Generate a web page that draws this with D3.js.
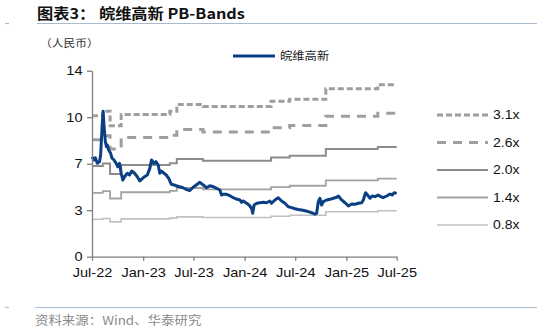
<!DOCTYPE html>
<html>
<head>
<meta charset="utf-8">
<script src="https://cdn.jsdelivr.net/npm/d3@7"></script>
<style>
  body { margin: 0; background: #fff; }
  text { font-family: "Liberation Sans", Arial, sans-serif; }
  .cjk { font-family: "Noto Sans CJK SC", sans-serif; }
</style>
</head>
<body>
<div class="chartBox"></div>
<script>
// 皖维高新 PB-Bands
var w = 537, h = 332;
var margin = { top: 70.7, right: 140.3, bottom: 75.3, left: 92 };
var iw = w - margin.left - margin.right,
    ih = h - margin.top - margin.bottom;

// share price (人民币)
var priceDates = ["2022-07-01","2022-07-08","2022-07-13","2022-07-20","2022-07-28","2022-08-01","2022-08-06","2022-08-10","2022-08-13","2022-08-18",
  "2022-08-22","2022-08-25","2022-08-30","2022-09-06","2022-09-11","2022-09-18","2022-09-26","2022-10-02","2022-10-08","2022-10-14",
  "2022-10-20","2022-10-26","2022-11-05","2022-11-13","2022-11-21","2022-12-01","2022-12-11","2022-12-20","2022-12-28","2023-01-06",
  "2023-01-16","2023-01-25","2023-01-31","2023-02-09","2023-02-16","2023-02-24","2023-03-02","2023-03-07","2023-03-17","2023-03-25",
  "2023-04-03","2023-04-12","2023-04-22","2023-04-30","2023-05-12","2023-05-24","2023-06-05","2023-06-17","2023-06-29","2023-07-11",
  "2023-07-24","2023-08-05","2023-08-17","2023-08-29","2023-09-10","2023-09-22","2023-10-04","2023-10-10","2023-10-16","2023-10-28",
  "2023-11-09","2023-11-21","2023-12-03","2023-12-15","2023-12-21","2023-12-27","2024-01-08","2024-01-17","2024-01-26","2024-01-30",
  "2024-02-04","2024-02-14","2024-02-25","2024-03-08","2024-03-20","2024-04-01","2024-04-07","2024-04-19","2024-05-01","2024-05-13",
  "2024-05-25","2024-06-06","2024-06-18","2024-06-30","2024-07-12","2024-07-24","2024-08-05","2024-08-17","2024-08-29","2024-09-10",
  "2024-09-16","2024-09-22","2024-09-28","2024-10-04","2024-10-10","2024-10-22","2024-11-03","2024-11-15","2024-11-27","2024-12-03",
  "2024-12-15","2024-12-27","2025-01-08","2025-01-20","2025-02-01","2025-02-13","2025-02-25","2025-03-03","2025-03-11","2025-03-18",
  "2025-03-27","2025-04-04","2025-04-14","2025-04-25","2025-05-05","2025-05-13","2025-05-26","2025-06-07","2025-06-15","2025-06-22",
  "2025-07-01"];
var price = [7.53,7.28,7.45,7.03,7.15,7.65,9.66,10.95,9.91,8.66,
  8.28,8.41,8.03,7.78,7.41,7.28,7.03,6.77,7.03,6.28,
  5.77,6.02,6.28,6.15,6.45,6.28,6.02,5.70,5.85,6.02,
  6.15,6.65,7.28,7.03,7.15,6.90,6.28,6.45,6.28,6.15,
  5.90,5.45,5.40,5.34,5.27,5.19,5.07,4.97,5.21,5.40,
  5.60,5.40,5.19,5.34,5.27,5.15,5.02,4.64,4.70,4.70,
  4.59,4.44,4.34,4.27,4.09,4.19,4.02,3.89,3.64,3.27,
  3.89,4.02,4.06,4.09,4.06,4.19,4.02,4.27,4.44,4.19,
  4.02,3.76,3.69,3.61,3.55,3.51,3.46,3.39,3.31,3.21,
  3.27,4.14,4.40,3.89,4.14,4.27,4.32,4.40,4.47,4.57,
  4.27,4.06,3.82,3.97,3.94,4.02,4.06,4.27,4.82,4.64,
  4.40,4.57,4.52,4.64,4.52,4.44,4.57,4.72,4.64,4.82,
  4.77];

// band levels, stepping when book value changes
var bandDates = ["2022-07-01","2022-08-09","2022-09-04","2022-10-14","2023-04-07","2023-05-02",
  "2023-08-04","2024-04-05","2024-06-11","2024-10-19","2025-04-24","2025-07-01"];
var band31 = [10.60,10.95,9.86,10.70,10.95,11.45,11.30,11.70,11.85,12.65,12.95,12.95];
var band26 = [8.80,9.10,8.10,8.97,9.15,9.57,9.39,9.70,9.88,10.58,10.79,10.79];
var band20 = [6.82,7.02,6.22,6.90,7.04,7.36,7.22,7.46,7.60,8.10,8.25,8.25];
var band14 = [4.80,4.93,4.38,4.85,4.95,5.17,5.07,5.24,5.34,5.75,5.88,5.88];
var band08 = [2.82,2.88,2.62,2.85,2.90,3.00,2.95,3.05,3.12,3.38,3.46,3.46];
var bandLabels = ["3.1x","2.6x","2.0x","1.4x","0.8x"];

var xTickDates = ["2022-07-01","2023-01-01","2023-07-01","2024-01-01","2024-07-01","2025-01-01","2025-07-01"];
var yTickValues = [0, 3.5, 7, 10.5, 14];
var yTickLabels = ["0","3","7","10","14"];

var parse = d3.timeParse("%Y-%m-%d");
var sx = 1.12; // text in the original is a bit wide

var svg = d3.select('div.chartBox')
  .append('svg')
  .attr('width', w)
  .attr('height', h);

// header
svg.append('text')
  .attr('class', 'cjk')
  .attr('transform', 'translate(37,19) scale(' + sx + ',1)')
  .style('font-size', '14.5px')
  .style('font-weight', 'bold')
  .style('fill', '#111')
  .text('图表3：  皖维高新 PB-Bands');
svg.append('line').attr('x1', 37).attr('x2', 537).attr('y1', 23.5).attr('y2', 23.5)
  .style('stroke', '#a9bccf').style('stroke-width', 1.2);
svg.append('line').attr('x1', 5).attr('x2', 9).attr('y1', 23.5).attr('y2', 23.5)
  .style('stroke', '#a9bccf').style('stroke-width', 1.2);
svg.append('text')
  .attr('class', 'cjk')
  .attr('transform', 'translate(40,47) scale(' + sx + ',1)')
  .style('font-size', '10.5px')
  .style('fill', '#333')
  .text('（人民币）');

// footer
svg.append('line').attr('x1', 35).attr('x2', 537).attr('y1', 307.5).attr('y2', 307.5)
  .style('stroke', '#a9bccf').style('stroke-width', 1.2);
svg.append('line').attr('x1', 5).attr('x2', 9).attr('y1', 307.5).attr('y2', 307.5)
  .style('stroke', '#a9bccf').style('stroke-width', 1.2);
svg.append('text')
  .attr('class', 'cjk')
  .attr('transform', 'translate(35,325) scale(' + sx + ',1)')
  .style('font-size', '12px')
  .style('fill', '#8a8a8a')
  .text('资料来源：Wind、华泰研究');

var x = d3.scaleTime()
  .domain([parse("2022-07-01"), parse("2025-07-01")])
  .range([0, iw]);
var y = d3.scaleLinear()
  .domain([0, 14])
  .range([ih, 0]);

var chart = svg.append('g')
  .attr('transform', 'translate(' + margin.left + ',' + margin.top + ')');

var bandStyles = [
  { color: '#9e9e9e', width: 3, dash: '6,3' },
  { color: '#9e9e9e', width: 3, dash: '9,7' },
  { color: '#8c8c8c', width: 2, dash: null },
  { color: '#a3a3a3', width: 1.8, dash: null },
  { color: '#c0c0c0', width: 1.6, dash: null }
];
var bands = [band31, band26, band20, band14, band08];

var stepLine = d3.line()
  .x(function(d) { return x(d.date) })
  .y(function(d) { return y(d.value) })
  .curve(d3.curveStepAfter);

bands.forEach(function(vals, i) {
  var pts = bandDates.map(function(d, j) { return { date: parse(d), value: vals[j] } });
  chart.append('path')
    .datum(pts)
    .attr('d', stepLine)
    .style('fill', 'none')
    .style('stroke', bandStyles[i].color)
    .style('stroke-width', bandStyles[i].width)
    .style('stroke-dasharray', bandStyles[i].dash);
});

var priceLine = d3.line()
  .x(function(d) { return x(d.date) })
  .y(function(d) { return y(d.value) });

chart.append('path')
  .datum(priceDates.map(function(d, j) { return { date: parse(d), value: price[j] } }))
  .attr('d', priceLine)
  .style('fill', 'none')
  .style('stroke', '#0b3f84')
  .style('stroke-width', 3)
  .style('stroke-linejoin', 'round');

// axes
var yAxis = d3.axisLeft(y)
  .tickValues(yTickValues)
  .tickFormat(function(d, i) { return yTickLabels[i] })
  .tickSize(5)
  .tickPadding(7.5)
  .tickSizeOuter(0);
var gy = chart.append('g').call(yAxis);

var xAxis = d3.axisBottom(x)
  .tickValues(xTickDates.map(parse))
  .tickFormat(d3.timeFormat('%b-%y'))
  .tickSize(4)
  .tickPadding(7)
  .tickSizeOuter(0);
var gx = chart.append('g')
  .attr('transform', 'translate(0,' + ih + ')')
  .call(xAxis);

[gx, gy].forEach(function(g) {
  g.select('.domain').style('stroke', '#7f7f7f').style('stroke-width', 1.3);
  g.selectAll('.tick line').style('stroke', '#7f7f7f').style('stroke-width', 1.3);
  g.selectAll('.tick text')
    .style('font-size', '13px')
    .style('fill', '#111')
    .attr('transform', 'scale(' + sx + ',1)');
});
gy.selectAll('.tick text').attr('x', -9.5 / sx);

// top legend
svg.append('line').attr('x1', 233).attr('x2', 275).attr('y1', 56).attr('y2', 56)
  .style('stroke', '#0b3f84').style('stroke-width', 3);
svg.append('text')
  .attr('class', 'cjk')
  .attr('transform', 'translate(280,60) scale(' + sx + ',1)')
  .style('font-size', '11px')
  .style('fill', '#222')
  .text('皖维高新');

// right legend
var legend = svg.selectAll('g.legend')
  .data(bandLabels)
  .enter()
  .append('g')
  .attr('class', 'legend')
  .attr('transform', function(d, i) { return 'translate(437,' + (115 + i * 27.5) + ')' });
legend.append('line')
  .attr('x1', 0).attr('x2', 51).attr('y1', 0).attr('y2', 0)
  .style('stroke', function(d, i) { return bandStyles[i].color })
  .style('stroke-width', function(d, i) { return bandStyles[i].width })
  .style('stroke-dasharray', function(d, i) { return bandStyles[i].dash });
legend.append('text')
  .attr('transform', 'translate(56,0) scale(' + sx + ',1)')
  .attr('dy', '0.35em')
  .style('font-size', '12.5px')
  .style('fill', '#111')
  .text(function(d) { return d });
</script>
</body>
</html>
